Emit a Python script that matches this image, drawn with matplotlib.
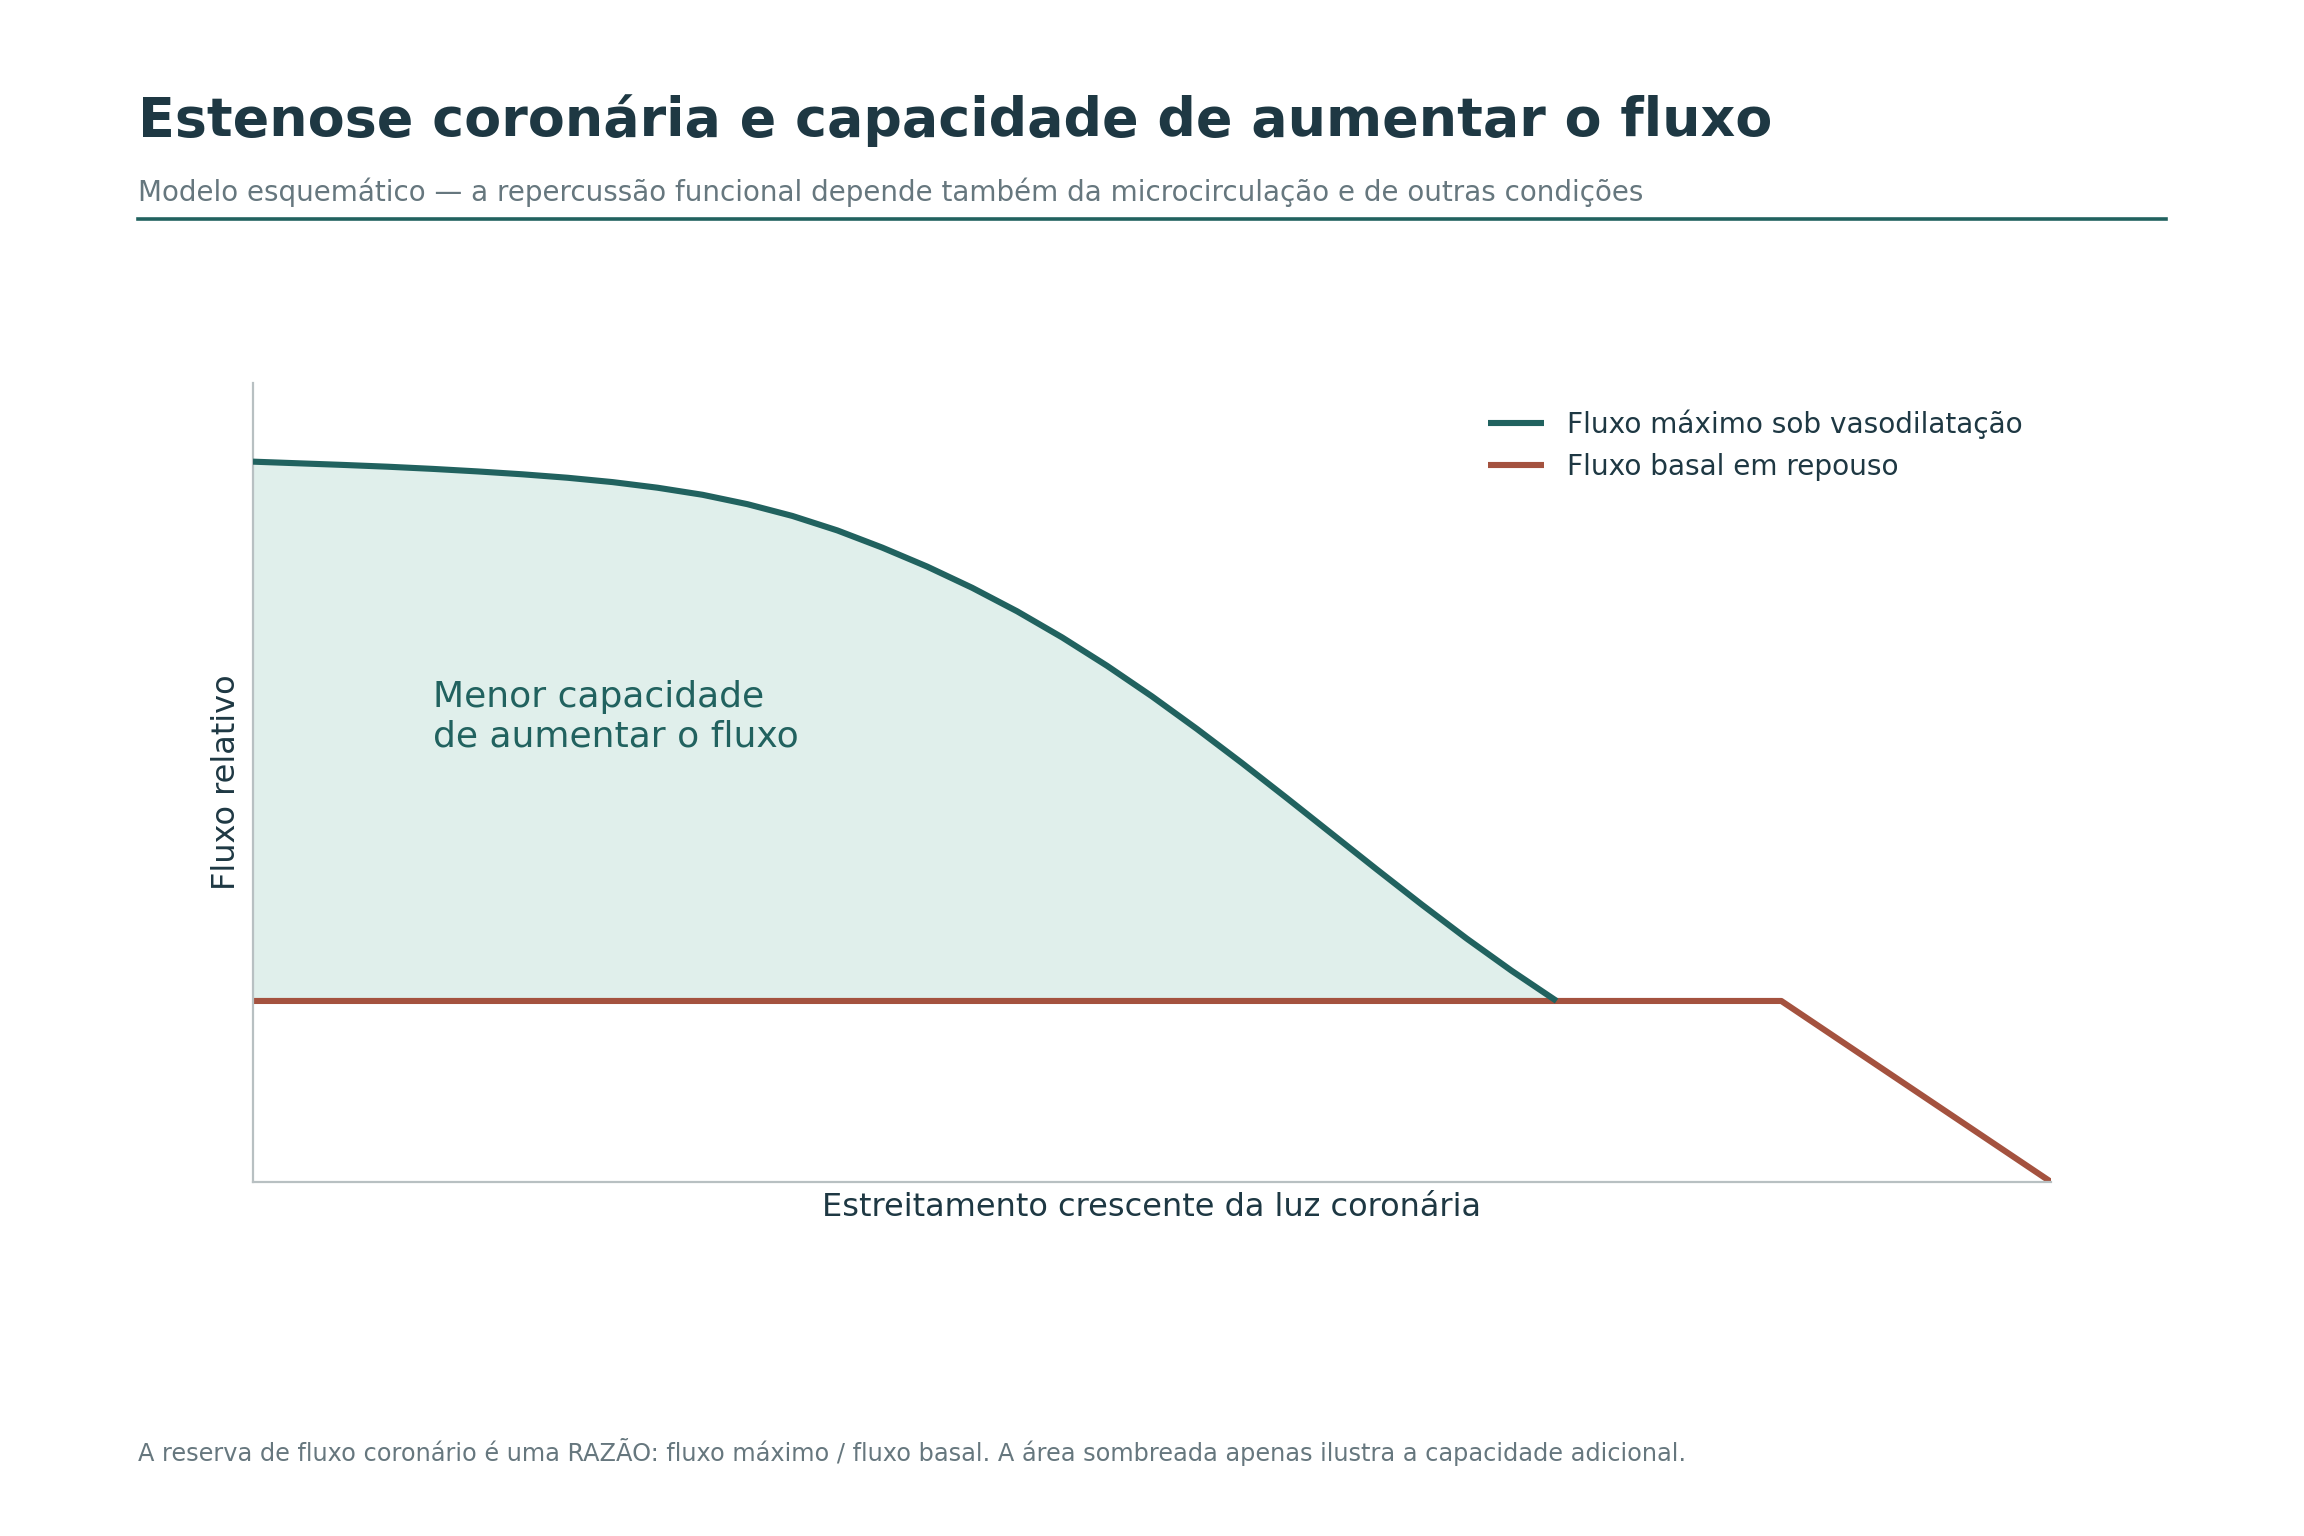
import numpy as np
import matplotlib.pyplot as plt

# dados (esquemáticos)
estenose_max = [0, 2.5, 5, 7.5, 10, 12.5, 15, 17.5, 20, 22.5, 25, 27.5, 30, 32.5, 35, 37.5,
                40, 42.5, 45, 47.5, 50, 52.5, 55, 57.5, 60, 62.5, 65, 67.5, 70, 72.5]
fluxo_max = [3.98, 3.971, 3.962, 3.952, 3.940, 3.926, 3.910, 3.891, 3.867, 3.836, 3.797,
             3.745, 3.680, 3.600, 3.505, 3.400, 3.283, 3.153, 3.009, 2.852, 2.683, 2.503,
             2.315, 2.121, 1.924, 1.727, 1.533, 1.345, 1.167, 1.00]
estenose_basal = [0, 85, 100]
fluxo_basal = [1.0, 1.0, 0.0]

TEAL = '#21625f'
RED = '#a4523f'
DARK = '#1e3843'
GREY = '#66777e'
FILL = '#e0efeb'

plt.rcParams['font.family'] = ['DejaVu Sans']

fig = plt.figure(figsize=(11.52, 7.68), dpi=200)
ax = fig.add_axes([0.1098, 0.2305, 0.7804, 0.5202])

x_max = np.array(estenose_max)
y_max = np.array(fluxo_max)
ax.fill_between(x_max, 1.0, y_max, color=FILL, lw=0, zorder=1)
ax.plot(estenose_max, fluxo_max, color=TEAL, lw=2.2, label='Fluxo máximo sob vasodilatação',
        zorder=3, solid_capstyle='butt', solid_joinstyle='round')
ax.plot(estenose_basal, fluxo_basal, color=RED, lw=2.2, label='Fluxo basal em repouso',
        zorder=2, solid_capstyle='butt')

ax.text(10, 2.57, 'Menor capacidade\nde aumentar o fluxo', color=TEAL, fontsize=13,
        va='center', ha='left')

ax.set_xlim(0, 100)
ax.set_ylim(0, 4.415)
ax.set_xticks([])
ax.set_yticks([])
for s in ['top', 'right']:
    ax.spines[s].set_visible(False)
for s in ['left', 'bottom']:
    ax.spines[s].set_color('#b8c0c2')
    ax.spines[s].set_linewidth(0.8)

ax.set_xlabel('Estreitamento crescente da luz coronária', fontsize=11.5, color=DARK, labelpad=3.5)
ax.set_ylabel('Fluxo relativo', fontsize=11.5, color=DARK, labelpad=4)

leg = ax.legend(loc='upper right', bbox_to_anchor=(0.998, 0.998), frameon=False, fontsize=10.1)
for t in leg.get_texts():
    t.set_color(DARK)

fig.text(0.060, 0.9115, 'Estenose coronária e capacidade de aumentar o fluxo', fontsize=19.4,
         fontweight='bold', color=DARK, va='baseline', ha='left')
fig.text(0.060, 0.869, 'Modelo esquemático — a repercussão funcional depende também da microcirculação e de outras condições',
         fontsize=10, color=GREY, va='baseline', ha='left')
fig.add_artist(plt.Line2D([0.060, 0.940], [0.8575, 0.8575], color=TEAL, lw=1.3,
                          transform=fig.transFigure))
fig.text(0.060, 0.049, 'A reserva de fluxo coronário é uma RAZÃO: fluxo máximo / fluxo basal. A área sombreada apenas ilustra a capacidade adicional.',
         fontsize=8.65, color=GREY, va='baseline', ha='left')

fig.savefig('out.png', dpi=200, facecolor='white')
